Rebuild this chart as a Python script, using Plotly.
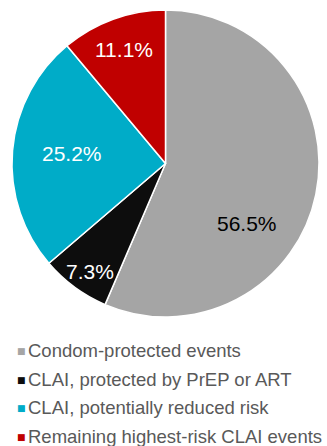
import math
import plotly.graph_objects as go

categories = ["Condom-protected events", "CLAI, protected by PrEP or ART",
              "CLAI, potentially reduced risk", "Remaining highest-risk CLAI events"]
values = [56.5, 7.3, 25.2, 11.1]
colors = ["#A5A5A5", "#0D0D0D", "#00ACC8", "#C00000"]
text_colors = ["#000000", "#FFFFFF", "#FFFFFF", "#FFFFFF"]
# label placement style (radius fraction, angular shift in degrees)
label_radius = [0.66, 0.86, 0.61, 0.79]
label_shift = [25, -1.5, 1.5, 0]

W, H = 327, 446
cx, cy, r = 165.5, 163.5, 153.5

fig = go.Figure(go.Pie(
    labels=categories, values=values, sort=False, direction="clockwise", rotation=0,
    marker=dict(colors=colors, line=dict(color="#FFFFFF", width=1.5)),
    textinfo="none",
    domain=dict(x=[(cx - r) / W, (cx + r) / W], y=[1 - (cy + r) / H, 1 - (cy - r) / H]),
    showlegend=False, hoverinfo="label+value",
))

total = sum(values)
cum = 0
for v, tc, f, s in zip(values, text_colors, label_radius, label_shift):
    mid = (cum + v / 2) / total * 360 + s
    cum += v
    a = math.radians(mid)
    px = cx + f * r * math.sin(a)
    py = cy - f * r * math.cos(a)
    fig.add_annotation(x=px / W, y=1 - py / H, xref="paper", yref="paper",
                       xanchor="center", yanchor="middle", showarrow=False,
                       text=f"{v:.1f}%",
                       font=dict(family="Liberation Sans, Arial", size=21, color=tc))

legend_y = [350, 379, 407, 436]
for cat, col, y in zip(categories, colors, legend_y):
    fig.add_annotation(x=14.5 / W, y=1 - (y + 0.5) / H, xref="paper", yref="paper", xanchor="left", yanchor="middle",
                       text="■", showarrow=False,
                       font=dict(family="DejaVu Sans", size=9, color=col))
    fig.add_annotation(x=26 / W, y=1 - y / H, xref="paper", yref="paper", xanchor="left", yanchor="middle",
                       text=cat, showarrow=False,
                       font=dict(family="Liberation Sans, Arial", size=18.5, color="#595959"))

fig.update_layout(width=W, height=H, margin=dict(l=0, r=0, t=0, b=0),
                  paper_bgcolor="white", plot_bgcolor="white")
fig.write_html("out.html")
